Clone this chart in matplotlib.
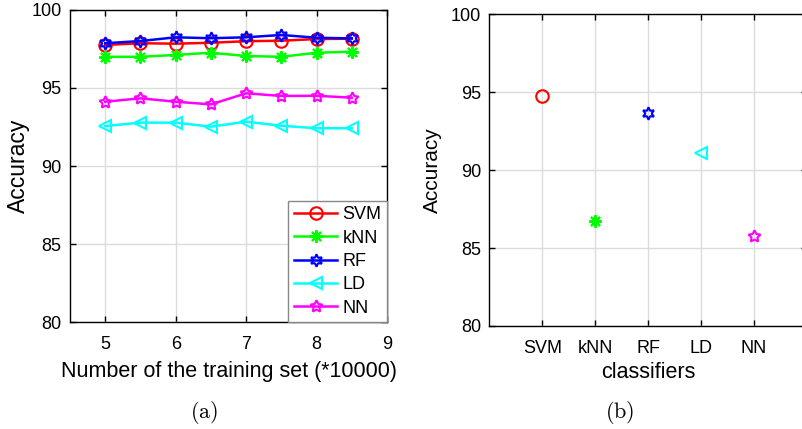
import numpy as np
from matplotlib import pyplot as plt

plt.rcParams['font.family'] = ['Liberation Sans', 'DejaVu Sans']
plt.rcParams['mathtext.fontset'] = 'cm'

# (a) accuracy vs training set size (*10000)
n_train = [5, 5.5, 6, 6.5, 7, 7.5, 8, 8.5]
acc_svm = [97.76, 97.87, 97.84, 97.90, 98.00, 98.03, 98.14, 98.16]
acc_knn = [97.00, 97.00, 97.12, 97.26, 97.05, 97.00, 97.26, 97.33]
acc_rf = [97.87, 98.01, 98.25, 98.19, 98.25, 98.40, 98.22, 98.18]
acc_ld = [92.56, 92.78, 92.78, 92.52, 92.84, 92.58, 92.42, 92.42]
acc_nn = [94.12, 94.34, 94.12, 93.95, 94.66, 94.49, 94.50, 94.38]

# (b) accuracy per classifier
classifiers = ['SVM', 'kNN', 'RF', 'LD', 'NN']
acc_b = [94.76, 86.75, 93.65, 91.09, 85.79]

names = ['SVM', 'kNN', 'RF', 'LD', 'NN']
colors = ['#ff0000', '#00ff00', '#0000ff', '#00ffff', '#ff00ff']
markers = ['o', (8, 2, 0), (6, 1, 0), '<', (5, 1, 0)]
series = [acc_svm, acc_knn, acc_rf, acc_ld, acc_nn]

fig = plt.figure(figsize=(8.02, 4.29), dpi=100)
ax1 = fig.add_axes([0.0873, 0.2494, 0.3953, 0.7273])
ax2 = fig.add_axes([0.6101, 0.2401, 0.3958, 0.7266])

def style(ax):
    ax.grid(True, color='#dcdcdc', linewidth=1)
    ax.set_axisbelow(True)
    ax.tick_params(direction='in', top=True, right=True, length=4,
                   labelsize=13, width=1)
    ax.tick_params(axis='x', pad=10)
    ax.tick_params(axis='y', pad=6)
    for s in ax.spines.values():
        s.set_linewidth(1)

for vals, c, m, lab in zip(series, colors, markers, names):
    ax1.plot(n_train, vals, color=c, marker=m, markersize=9,
             markerfacecolor='none', markeredgewidth=1.5, linewidth=1.8,
             label=lab)
ax1.set_xlim(4.5, 9)
ax1.set_ylim(80, 100)
ax1.set_xticks([5, 6, 7, 8, 9])
ax1.set_yticks([80, 85, 90, 95, 100])
style(ax1)
ax1.set_xlabel('Number of the training set (*10000)', fontsize=15.5, labelpad=6)
ax1.set_ylabel('Accuracy', fontsize=16.5, labelpad=1)
leg = ax1.legend(loc='lower right', fontsize=13, fancybox=False,
                 edgecolor='#888888', framealpha=1, borderaxespad=0,
                 handlelength=2.4, labelspacing=0.35, handletextpad=0.3,
                 borderpad=0.3)
leg.get_frame().set_linewidth(1)

xpos = np.arange(1, len(classifiers) + 1)
for i in range(len(classifiers)):
    ax2.plot(xpos[i], acc_b[i], linestyle='none', marker=markers[i],
             color=colors[i], markersize=9, markerfacecolor='none',
             markeredgewidth=1.5)
ax2.set_xlim(0, 6)
ax2.set_ylim(80, 100)
ax2.set_xticks(xpos)
ax2.set_xticklabels(classifiers)
ax2.set_yticks([80, 85, 90, 95, 100])
style(ax2)
ax2.set_xlabel('classifiers', fontsize=15.5, labelpad=4)
ax2.set_ylabel('Accuracy', fontsize=15, labelpad=6)

fig.text(204 / 802, 1 - 413 / 429, r'$\mathrm{(a)}$', ha='center', va='center', fontsize=16)
fig.text(620 / 802, 1 - 413 / 429, r'$\mathrm{(b)}$', ha='center', va='center', fontsize=16)

fig.savefig('out.png', dpi=100)
